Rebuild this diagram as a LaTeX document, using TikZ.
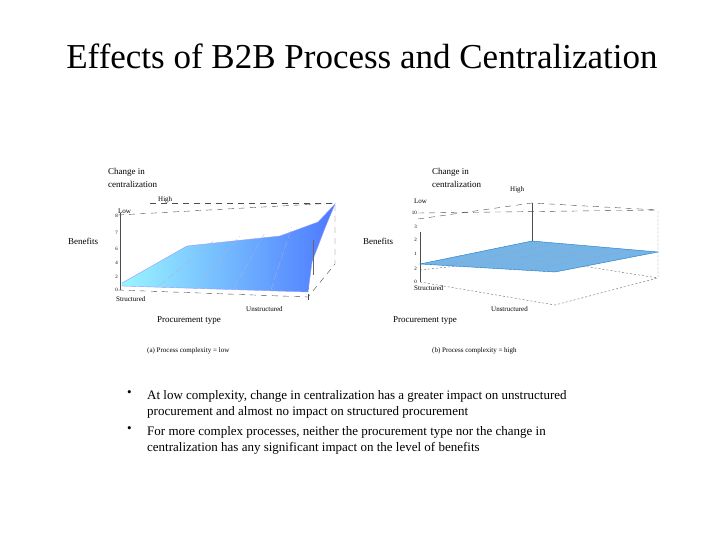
\documentclass[tikz,border=0pt]{standalone}
\usepackage{fontspec}
\setmainfont{Liberation Serif}
\usetikzlibrary{calc}
\begin{document}
\begin{tikzpicture}[x=1pt,y=-1pt,
  lab/.style={font=\fontsize{9}{10}\selectfont,inner sep=0pt,anchor=west},
  tick/.style={font=\fontsize{5}{5}\selectfont,inner sep=0pt,anchor=east},
  dsh/.style={draw=black!70,dash pattern=on 6pt off 5pt,line width=0.4pt},
  dot/.style={draw=black!60,dash pattern=on 2pt off 2pt,line width=0.4pt},
  bul/.style={font=\fontsize{13}{16.5}\selectfont,inner sep=0pt,anchor=north west,align=left}]
\useasboundingbox (0,0) rectangle (720,540);
\node[font=\fontsize{35}{40}\selectfont,inner sep=0pt] (title) at (362,56) {Effects of B2B Process and Centralization};
% ---------- left plot
\draw[dsh] (118,215) -- (335,203);
\draw[dsh] (150,203) -- (335,203);
\draw[dsh] (118,290) -- (308,297) -- (335,264) -- (335,203);
\draw[dsh] (308,250) -- (308,300);
\draw[black!70] (120,213) -- (120,290);
\shade[left color=blue!10!cyan!40, right color=blue!75!cyan!70, draw=blue!40] (122,283) -- (187,246) -- (280,236) -- (318,222) -- (335,204) -- (325,228) -- (312,262) -- (308,292) -- (122,286) -- cycle;
\foreach \t in {0.2,0.4,0.6,0.8}{\draw[blue!40!black!30,line width=0.3pt,dash pattern=on 8pt off 3pt] ($(122,284)!\t!(308,292)$) -- ($(187,246)!\t!(318,222)$);}
\draw[black!60] (313,240) -- (313,275);
\node[lab] (lchg) at (108,172) {Change in};
\node[lab] (lcen) at (108,184) {centralization};
\node[lab,font=\fontsize{7}{8}\selectfont] (lhigh) at (158,200) {High};
\node[lab,font=\fontsize{7}{8}\selectfont] (llow) at (118,211) {Low};
\node[lab] (lben) at (68,241) {Benefits};
\node[lab,font=\fontsize{7}{8}\selectfont] (lstr) at (116,299) {Structured};
\node[lab,font=\fontsize{7}{8}\selectfont] (lun) at (246,309) {Unstructured};
\node[lab] (lpt) at (157,321) {Procurement type};
\node[lab,font=\fontsize{7}{8}\selectfont] (lcap) at (147,351) {(a) Process complexity = low};
\foreach \v/\y in {0/290,2/277,4/263,6/249,7/233,8/216}{\node[tick] at (118,\y) {\v};}
% ---------- right plot
\draw[dsh] (418,213) -- (658,210);
\draw[dsh] (418,219) -- (532,203) -- (658,210);
\draw[dot] (420,282) -- (555,305) -- (658,278) -- (658,210);
\draw[dot] (420,270) -- (532,258) -- (658,278);
\draw[black!70] (420,232) -- (420,282);
\draw[black!70] (532,203) -- (532,241);
\draw[fill=cyan!70!blue!55,draw=cyan!60!blue] (420,264) -- (532,241) -- (658,252) -- (555,272) -- cycle;
\foreach \t in {0.2,0.4,0.6,0.8}{\draw[blue!50!black!40,dash pattern=on 1.5pt off 1.5pt,line width=0.3pt] ($(420,264)!\t!(555,272)$) -- ($(532,241)!\t!(658,252)$);}
\node[lab] (rchg) at (432,172) {Change in};
\node[lab] (rcen) at (432,184) {centralization};
\node[lab,font=\fontsize{7}{8}\selectfont] (rhigh) at (510,190) {High};
\node[lab,font=\fontsize{7}{8}\selectfont] (rlow) at (414,201) {Low};
\node[lab] (rben) at (363,241) {Benefits};
\node[lab,font=\fontsize{7}{8}\selectfont] (rstr) at (414,288) {Structured};
\node[lab,font=\fontsize{7}{8}\selectfont] (run) at (491,309) {Unstructured};
\node[lab] (rpt) at (393,321) {Procurement type};
\node[lab,font=\fontsize{7}{8}\selectfont] (rcap) at (432,351) {(b) Process complexity = high};
\foreach \v/\y in {0/282,2/269,1/254,2/240,3/227,10/213}{\node[tick] at (417,\y) {\v};}
% ---------- bullets
\node[bul] (b1dot) at (127,390) {•};
\node[bul] (b1) at (147,390) {At low complexity, change in centralization has a greater impact on unstructured\\procurement and almost no impact on structured procurement};
\node[bul] (b2dot) at (127,426) {•};
\node[bul] (b2) at (147,426) {For more complex processes, neither the procurement type nor the change in\\centralization has any significant impact on the level of benefits};
\end{tikzpicture}
\end{document}
